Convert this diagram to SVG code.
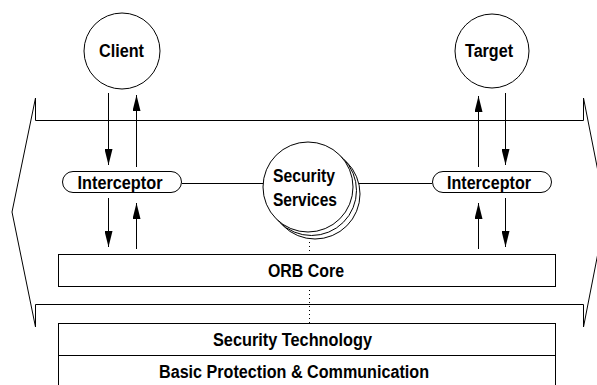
<svg xmlns="http://www.w3.org/2000/svg" width="597" height="385" viewBox="0 0 597 385">
  <style>
    .ln { fill: none; stroke: #000; stroke-width: 1; }
    .box { fill: #fff; stroke: #000; stroke-width: 1; }
    .lbl { font-family: "Liberation Sans", Arial, sans-serif; font-weight: bold; font-size: 17.5px; fill: #000; text-anchor: middle; }
    .dot { fill: none; stroke: #000; stroke-width: 1; stroke-dasharray: 1 3; }
  </style>
  <defs>
    <marker id="head" markerUnits="userSpaceOnUse" markerWidth="16" markerHeight="8" refX="16" refY="4" orient="auto">
      <path d="M0,0 L16,4 L0,8 Z" fill="#000"/>
    </marker>
  </defs>

  <rect width="597" height="385" fill="#fff"/>

  <!-- ORB boundary band -->
  <g id="orb-boundary">
    <path class="ln" d="M35.5,120.5 L583.5,120.5 L583.5,98 L606,212 L583.5,327 L583.5,304.5 L35.5,304.5 L35.5,327 L12,212 L35.5,98 Z"/>
  </g>

  <!-- connectors -->
  <g id="connectors">
    <!-- client side -->
    <line class="ln" x1="108.5" y1="93" x2="108.5" y2="165" marker-end="url(#head)"/>
    <line class="ln" x1="136.5" y1="167" x2="136.5" y2="95" marker-end="url(#head)"/>
    <line class="ln" x1="108.5" y1="198" x2="108.5" y2="247" marker-end="url(#head)"/>
    <line class="ln" x1="136.5" y1="249" x2="136.5" y2="203" marker-end="url(#head)"/>
    <!-- target side -->
    <line class="ln" x1="478.5" y1="167" x2="478.5" y2="96" marker-end="url(#head)"/>
    <line class="ln" x1="505.5" y1="93" x2="505.5" y2="165" marker-end="url(#head)"/>
    <line class="ln" x1="478.5" y1="249" x2="478.5" y2="203" marker-end="url(#head)"/>
    <line class="ln" x1="505.5" y1="198" x2="505.5" y2="247" marker-end="url(#head)"/>
    <!-- interceptors to security services -->
    <line class="ln" x1="182" y1="183.5" x2="264" y2="183.5"/>
    <line class="ln" x1="359" y1="183.5" x2="432" y2="183.5"/>
    <!-- security services down to the technology layer -->
    <line class="dot" x1="309.5" y1="238" x2="309.5" y2="323"/>
  </g>

  <g id="client">
    <circle class="box" cx="122" cy="51" r="38"/>
    <text class="lbl" x="121.5" y="57" textLength="45" lengthAdjust="spacingAndGlyphs">Client</text>
  </g>

  <g id="target">
    <circle class="box" cx="492" cy="51" r="37"/>
    <text class="lbl" x="489" y="57" textLength="48" lengthAdjust="spacingAndGlyphs">Target</text>
  </g>

  <g id="interceptor-client">
    <rect class="box" x="62.5" y="171.5" width="119" height="21" rx="10.5"/>
    <text class="lbl" x="120" y="188.5" textLength="85" lengthAdjust="spacingAndGlyphs">Interceptor</text>
  </g>

  <g id="interceptor-target">
    <rect class="box" x="432.5" y="171.5" width="119" height="21" rx="10.5"/>
    <text class="lbl" x="489" y="188.5" textLength="84" lengthAdjust="spacingAndGlyphs">Interceptor</text>
  </g>

  <g id="security-services">
    <circle class="box" cx="315" cy="194" r="45"/>
    <circle class="box" cx="311.5" cy="190.5" r="45"/>
    <circle class="box" cx="308" cy="187" r="45"/>
    <text class="lbl" x="304" y="182" textLength="62" lengthAdjust="spacingAndGlyphs">Security</text>
    <text class="lbl" x="305" y="206" textLength="64" lengthAdjust="spacingAndGlyphs">Services</text>
  </g>

  <g id="orb-core">
    <rect class="box" x="58.5" y="254.5" width="497" height="32"/>
    <text class="lbl" x="306" y="277" textLength="76" lengthAdjust="spacingAndGlyphs">ORB Core</text>
  </g>

  <g id="security-technology">
    <rect class="box" x="58.5" y="323.5" width="497" height="32"/>
    <text class="lbl" x="292.5" y="346" textLength="159" lengthAdjust="spacingAndGlyphs">Security Technology</text>
  </g>

  <g id="basic-protection">
    <rect class="box" x="58.5" y="355.5" width="497" height="40"/>
    <text class="lbl" x="294" y="378" textLength="270" lengthAdjust="spacingAndGlyphs">Basic Protection &amp; Communication</text>
  </g>
</svg>
